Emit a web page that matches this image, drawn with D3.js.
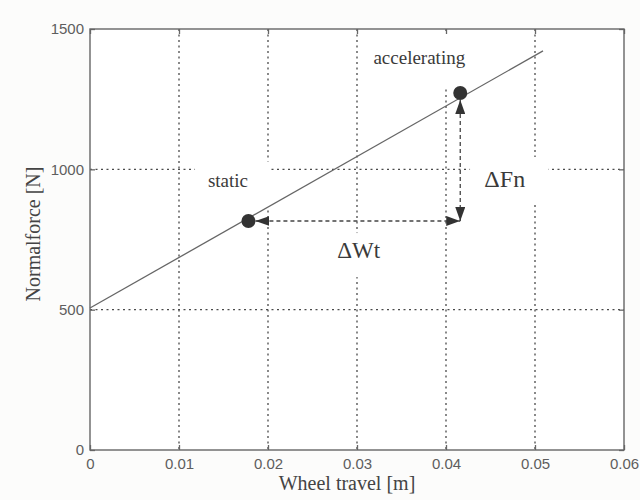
<!DOCTYPE html>
<html lang="en">
<head>
  <meta charset="UTF-8">
  <title>Normal force vs wheel travel</title>
  <style>
    body {
      margin: 0;
      background-color: #fcfcfb;
    }

    .tick text {
      font-family: "Liberation Sans", Arial, sans-serif;
      font-size: 15px;
      fill: #5e5e5e;
    }

    .tick line {
      stroke: #666;
      stroke-width: 1.3;
    }

    .grid {
      stroke: #4a4a4a;
      stroke-width: 1.3;
      stroke-dasharray: 2,3.5;
    }

    .title {
      font-family: "Liberation Serif", "Times New Roman", serif;
      font-size: 20px;
      fill: #444;
      text-anchor: middle;
    }

    .note {
      font-family: "Times New Roman", "Liberation Serif", "DejaVu Serif", serif;
      fill: #3a3a3a;
      text-anchor: middle;
    }
  </style>
</head>
<body>
  <svg id="chart" width="640" height="500"></svg>

  <script src="https://cdn.jsdelivr.net/npm/d3@7"></script>
  <script>
    // axis ticks
    var xTicks = [0, 0.01, 0.02, 0.03, 0.04, 0.05, 0.06];
    var xTickLabels = ["0", "0.01", "0.02", "0.03", "0.04", "0.05", "0.06"];
    var yTicks = [0, 500, 1000, 1500];
    var yTickLabels = ["0", "500", "1000", "1500"];

    // spring line (wheel travel [m], normal force [N])
    var lineTravel = [0, 0.0509];
    var lineForce = [506, 1422];

    // the two operating points
    var pointNames = ["static", "accelerating"];
    var pointTravel = [0.0178, 0.0416];
    var pointForce = [816, 1272];

    // text labels, placed in data units
    var noteText = ["static", "accelerating", "\u0394Fn", "\u0394Wt"];
    var noteTravel = [0.0155, 0.0370, 0.0466, 0.0302];
    var noteForce = [937, 1375, 937, 684];
    var noteSize = [19, 19, 24, 23];

    // spots where the printed grid is blanked out behind the labels [x0, x1, y0, y1]
    var gridGaps = [
      [0.0118, 0.0203, 855, 1028],
      [0.0308, 0.0435, 1293, 1488],
      [0.0427, 0.0515, 873, 1044],
      [0.0285, 0.0322, 616, 773]
    ];

    var svg = d3.select("#chart");

    var x = d3.scaleLinear().domain([0, 0.06]).range([90, 624]);
    var y = d3.scaleLinear().domain([0, 1500]).range([450, 29]);

    // plot background
    svg.append("rect")
      .attr("x", x(0)).attr("y", y(1500))
      .attr("width", x(0.06) - x(0))
      .attr("height", y(0) - y(1500))
      .attr("fill", "#fff");

    // dotted grid
    svg.selectAll(".gx")
      .data(xTicks.slice(1, -1))
      .enter().append("line")
      .attr("class", "grid")
      .attr("x1", function(d) { return x(d); })
      .attr("x2", function(d) { return x(d); })
      .attr("y1", y(1500))
      .attr("y2", y(0));

    svg.selectAll(".gy")
      .data(yTicks.slice(1, -1))
      .enter().append("line")
      .attr("class", "grid")
      .attr("x1", x(0))
      .attr("x2", x(0.06))
      .attr("y1", function(d) { return y(d); })
      .attr("y2", function(d) { return y(d); });

    svg.selectAll(".gap")
      .data(gridGaps)
      .enter().append("rect")
      .attr("x", function(d) { return x(d[0]); })
      .attr("y", function(d) { return y(d[3]); })
      .attr("width", function(d) { return x(d[1]) - x(d[0]); })
      .attr("height", function(d) { return y(d[2]) - y(d[3]); })
      .attr("fill", "#fff");

    // axes, ticks pointing inwards on all four sides
    svg.append("g")
      .attr("transform", "translate(0," + y(0) + ")")
      .call(d3.axisBottom(x).tickValues(xTicks).tickSize(-5).tickPadding(8)
        .tickFormat(function(d, i) { return xTickLabels[i]; }))
      .call(function(g) { g.select(".domain").remove(); });

    svg.append("g")
      .attr("transform", "translate(" + x(0) + ",0)")
      .call(d3.axisLeft(y).tickValues(yTicks).tickSize(-5).tickPadding(6)
        .tickFormat(function(d, i) { return yTickLabels[i]; }))
      .call(function(g) { g.select(".domain").remove(); });

    svg.append("g")
      .attr("transform", "translate(0," + y(1500) + ")")
      .call(d3.axisTop(x).tickValues(xTicks).tickSize(-5).tickFormat(""))
      .call(function(g) { g.select(".domain").remove(); });

    svg.append("g")
      .attr("transform", "translate(" + x(0.06) + ",0)")
      .call(d3.axisRight(y).tickValues(yTicks).tickSize(-5).tickFormat(""))
      .call(function(g) { g.select(".domain").remove(); });

    svg.append("rect")
      .attr("x", x(0)).attr("y", y(1500))
      .attr("width", x(0.06) - x(0))
      .attr("height", y(0) - y(1500))
      .attr("fill", "none")
      .attr("stroke", "#666")
      .attr("stroke-width", 1.4);

    // force line
    var lineData = lineTravel.map(function(d, i) { return [d, lineForce[i]]; });
    svg.append("path")
      .datum(lineData)
      .attr("fill", "none")
      .attr("stroke", "#666")
      .attr("stroke-width", 1.3)
      .attr("d", d3.line()
        .x(function(d) { return x(d[0]); })
        .y(function(d) { return y(d[1]); }));

    // arrow heads
    svg.append("defs").append("marker")
      .attr("id", "head")
      .attr("viewBox", "0 0 14 10")
      .attr("refX", 14).attr("refY", 5)
      .attr("markerUnits", "userSpaceOnUse")
      .attr("markerWidth", 14).attr("markerHeight", 10)
      .attr("orient", "auto-start-reverse")
      .append("path")
      .attr("d", "M0,0 L14,5 L0,10 Z")
      .attr("fill", "#333");

    var r = 7;
    // delta wheel travel
    svg.append("line")
      .attr("x1", x(pointTravel[0]) + r)
      .attr("y1", y(pointForce[0]))
      .attr("x2", x(pointTravel[1]))
      .attr("y2", y(pointForce[0]))
      .attr("stroke", "#444")
      .attr("stroke-width", 1.3)
      .attr("stroke-dasharray", "4,3")
      .attr("marker-start", "url(#head)")
      .attr("marker-end", "url(#head)");

    // delta normal force
    svg.append("line")
      .attr("x1", x(pointTravel[1]))
      .attr("y1", y(pointForce[1]) + r)
      .attr("x2", x(pointTravel[1]))
      .attr("y2", y(pointForce[0]))
      .attr("stroke", "#444")
      .attr("stroke-width", 1.3)
      .attr("stroke-dasharray", "4,3")
      .attr("marker-start", "url(#head)")
      .attr("marker-end", "url(#head)");

    svg.selectAll(".pt")
      .data(pointNames)
      .enter().append("circle")
      .attr("cx", function(d, i) { return x(pointTravel[i]); })
      .attr("cy", function(d, i) { return y(pointForce[i]); })
      .attr("r", r)
      .attr("fill", "#333");

    svg.selectAll(".note")
      .data(noteText)
      .enter().append("text")
      .attr("class", "note")
      .attr("x", function(d, i) { return x(noteTravel[i]); })
      .attr("y", function(d, i) { return y(noteForce[i]); })
      .style("font-size", function(d, i) { return noteSize[i] + "px"; })
      .text(function(d) { return d; });

    // axis titles
    svg.append("text")
      .attr("class", "title")
      .attr("x", (x(0) + x(0.06)) / 2 - 10)
      .attr("y", 490)
      .text("Wheel travel [m]");

    svg.append("text")
      .attr("class", "title")
      .attr("transform", "translate(40," + 234 + ") rotate(-90)")
      .text("Normalforce [N]");
  </script>
</body>
</html>
